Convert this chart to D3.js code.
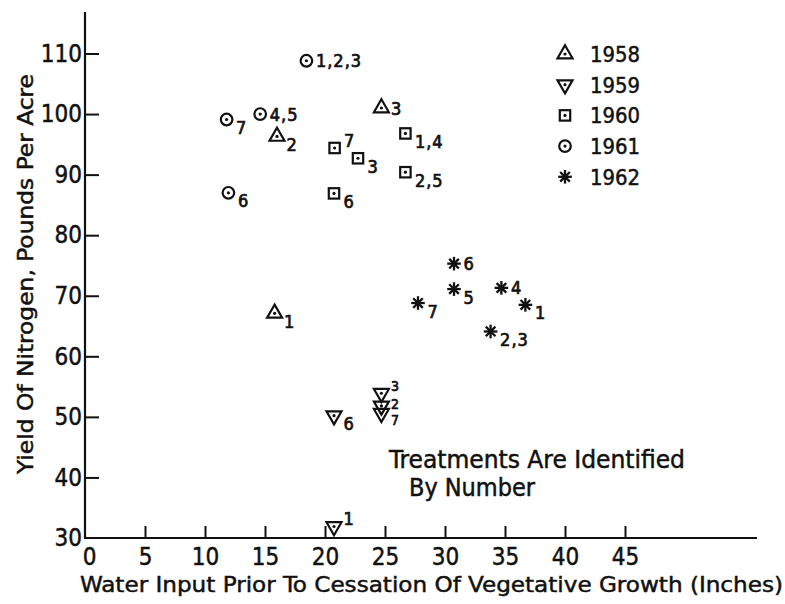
<!DOCTYPE html>
<meta charset="utf-8">
<style>
body { margin: 0; background: white; }
text { font-family: "DejaVu Sans Condensed", "DejaVu Sans", sans-serif; font-stretch: condensed; fill: #111; stroke: #111; stroke-width: 0.45px; }
</style>
<body>
<script src="https://d3js.org/d3.v7.min.js"></script>
<script>
// values: water input (in) vs nitrogen yield (lb/acre)
var years = ["1958", "1959", "1960", "1961", "1962"];

var water1958 = [15.8, 16.0, 24.7];
var yield1958 = [67.1, 96.3, 101.0];
var treat1958 = ["1", "2", "3"];

var water1959 = [20.75, 24.7, 24.7, 20.75, 24.7];
var yield1959 = [31.9, 51.8, 53.9, 50.2, 50.6];
var treat1959 = ["1", "2", "3", "6", "7"];

var water1960 = [26.7, 26.7, 22.75, 20.75, 20.8];
var yield1960 = [96.8, 90.4, 92.7, 86.9, 94.4];
var treat1960 = ["1,4", "2,5", "3", "6", "7"];

var water1961 = [18.45, 14.6, 11.95, 11.8];
var yield1961 = [108.8, 100.0, 87.0, 99.1];
var treat1961 = ["1,2,3", "4,5", "6", "7"];

var water1962 = [36.7, 33.8, 34.7, 30.75, 30.75, 27.75];
var yield1962 = [68.5, 64.1, 71.3, 71.1, 75.3, 68.8];
var treat1962 = ["1", "2,3", "4", "5", "6", "7"];

var xTicks = [0, 5, 10, 15, 20, 25, 30, 35, 40, 45];
var yTicks = [30, 40, 50, 60, 70, 80, 90, 100, 110];

// ---- layout ----
var width = 785, height = 604;
var x = d3.scaleLinear().domain([0, 45]).range([85, 625]);
var y = d3.scaleLinear().domain([30, 110]).range([538, 53.5]);

// where each treatment number sits beside its marker
var labelSide = {
  "1958 1": "low", "1958 2": "low", "1958 3": "mid",
  "1959 1": "high", "1959 2": "stack2", "1959 3": "stack1", "1959 6": "low", "1959 7": "stack3",
  "1960 1,4": "low", "1960 2,5": "low", "1960 3": "low", "1960 6": "low", "1960 7": "high",
  "1961 1,2,3": "mid", "1961 4,5": "mid", "1961 6": "low", "1961 7": "low",
  "1962 1": "low", "1962 2,3": "low", "1962 4": "mid", "1962 5": "low", "1962 6": "mid", "1962 7": "low"
};
var sideDy = { low: 14.5, mid: 6.5, high: -1, stack1: -2, stack2: 3, stack3: 12 };

var svg = d3.select("body").append("svg")
    .attr("width", width)
    .attr("height", height);

// axes
var xAxis = d3.axisBottom(x).tickValues(xTicks).tickSize(-12).tickPadding(10).tickFormat(d3.format("d"));
var yAxis = d3.axisLeft(y).tickValues(yTicks).tickSize(-14).tickPadding(3).tickFormat(d3.format("d"));

var gx = svg.append("g").attr("transform", "translate(0," + y(30) + ")").call(xAxis);
var gy = svg.append("g").attr("transform", "translate(" + x(0) + ",0)").call(yAxis);
[gx, gy].forEach(function(g) {
  g.select(".domain").remove();
  g.selectAll(".tick line").attr("stroke", "#111").attr("stroke-width", 2);
  g.selectAll(".tick text").style("font-size", "24px").attr("fill", "#111");
});
gy.selectAll(".tick").filter(function(d) { return d === 30; }).select("line").remove();
gx.selectAll(".tick").filter(function(d) { return d === 0; }).select("line").remove();
gx.selectAll(".tick text").filter(function(d) { return d === 0; }).attr("dx", 4);

// axis lines
svg.append("line").attr("x1", x(0)).attr("x2", 757).attr("y1", y(30)).attr("y2", y(30))
    .attr("stroke", "#111").attr("stroke-width", 2.2);
svg.append("line").attr("x1", x(0)).attr("x2", x(0)).attr("y1", 12).attr("y2", y(30) + 1)
    .attr("stroke", "#111").attr("stroke-width", 2.2);

// axis titles
svg.append("text")
    .attr("x", 80).attr("y", 592)
    .attr("textLength", 703).attr("lengthAdjust", "spacingAndGlyphs")
    .style("font-size", "22px")
    .text("Water Input Prior To Cessation Of Vegetative Growth (Inches)");

svg.append("text")
    .attr("transform", "translate(33,274) rotate(-90)")
    .attr("text-anchor", "middle")
    .attr("textLength", 400).attr("lengthAdjust", "spacingAndGlyphs")
    .style("font-size", "22px")
    .text("Yield Of Nitrogen, Pounds Per Acre");

// marker shapes
function drawMarker(g, year) {
  var sw = 2.2;
  function dot() { g.append("circle").attr("r", 1.6).attr("fill", "#111"); }
  if (year === "1958") {
    g.append("path").attr("d", "M0,-8.7L7.5,4.3L-7.5,4.3Z")
        .attr("fill", "none").attr("stroke", "#111").attr("stroke-width", sw);
    dot();
  } else if (year === "1959") {
    g.append("path").attr("d", "M0,8.7L7.5,-4.3L-7.5,-4.3Z")
        .attr("fill", "none").attr("stroke", "#111").attr("stroke-width", sw);
    dot();
  } else if (year === "1960") {
    g.append("rect").attr("x", -5.2).attr("y", -5.2).attr("width", 10.4).attr("height", 10.4)
        .attr("fill", "none").attr("stroke", "#111").attr("stroke-width", sw);
    dot();
  } else if (year === "1961") {
    g.append("circle").attr("r", 5.8)
        .attr("fill", "none").attr("stroke", "#111").attr("stroke-width", sw);
    dot();
  } else {
    [0, 45, 90, 135].forEach(function(a) {
      var r = 6.8, t = a * Math.PI / 180;
      g.append("line")
          .attr("x1", -r * Math.cos(t)).attr("y1", -r * Math.sin(t))
          .attr("x2", r * Math.cos(t)).attr("y2", r * Math.sin(t))
          .attr("stroke", "#111").attr("stroke-width", 2.3);
    });
    g.append("circle").attr("r", 2.6).attr("fill", "#111");
  }
}

var series = {
  "1958": [water1958, yield1958, treat1958],
  "1959": [water1959, yield1959, treat1959],
  "1960": [water1960, yield1960, treat1960],
  "1961": [water1961, yield1961, treat1961],
  "1962": [water1962, yield1962, treat1962]
};

years.forEach(function(yr) {
  var s = series[yr];
  var pts = s[0].map(function(w, i) { return { year: yr, water: w, yield: s[1][i], treat: s[2][i] }; });
  var g = svg.append("g").selectAll("g").data(pts).enter().append("g")
      .attr("transform", function(d) { return "translate(" + x(d.water) + "," + y(d.yield) + ")"; });
  g.each(function(d) { drawMarker(d3.select(this), d.year); });
  g.append("text")
      .attr("x", 9.5)
      .attr("y", function(d) { return sideDy[labelSide[d.year + " " + d.treat]]; })
      .style("font-size", function(d) {
        return labelSide[d.year + " " + d.treat].indexOf("stack") === 0 ? "14px" : "18px";
      })
      .style("letter-spacing", "1px")
      .style("stroke-width", "0.7px")
      .text(function(d) { return d.treat; });
});

// legend
var leg = svg.append("g").selectAll("g").data(years).enter().append("g")
    .attr("transform", function(d, i) { return "translate(565," + (54 + i * 30.7) + ")"; });
leg.each(function(d) { drawMarker(d3.select(this), d); });
leg.append("text")
    .attr("x", 25).attr("y", 8)
    .attr("textLength", 50).attr("lengthAdjust", "spacingAndGlyphs")
    .style("font-size", "21px")
    .text(function(d) { return d; });

// note
svg.append("text").attr("x", 389).attr("y", 468)
    .attr("textLength", 296).attr("lengthAdjust", "spacingAndGlyphs")
    .style("font-size", "24px")
    .text("Treatments Are Identified");
svg.append("text").attr("x", 409).attr("y", 496)
    .attr("textLength", 126).attr("lengthAdjust", "spacingAndGlyphs")
    .style("font-size", "24px")
    .text("By Number");
</script>
</body>
